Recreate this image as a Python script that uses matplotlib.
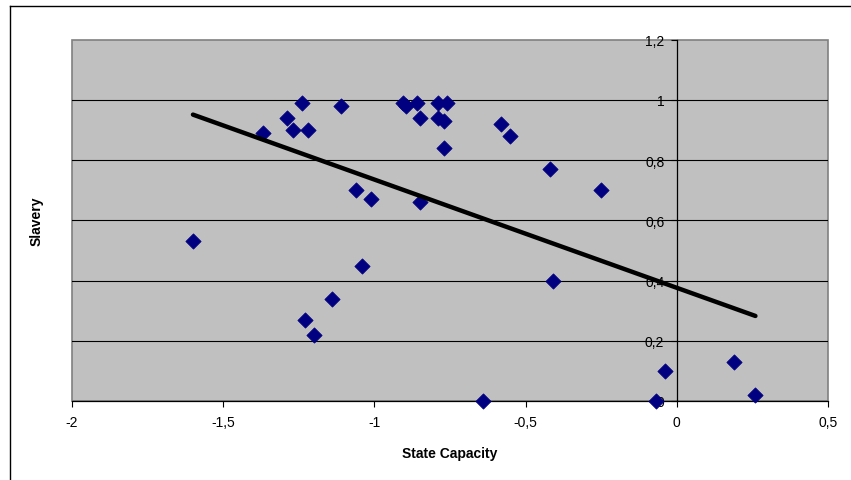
import matplotlib
matplotlib.use("Agg")
import matplotlib.pyplot as plt
from matplotlib.patches import Rectangle
from matplotlib.lines import Line2D
import numpy as np

plt.rcParams['font.family'] = ['Liberation Sans', 'DejaVu Sans']

state_capacity = [-1.60, -1.37, -1.29, -1.24, -1.27, -1.22, -1.11, -1.06, -1.01, -1.04,
                  -1.23, -1.20, -1.14, -0.905, -0.895, -0.86, -0.85, -0.79, -0.76, -0.79,
                  -0.77, -0.77, -0.58, -0.55, -0.42, -0.25, -0.85, -0.41, -0.64, -0.07,
                  -0.04, 0.19, 0.26]
slavery = [0.53, 0.89, 0.94, 0.99, 0.90, 0.90, 0.98, 0.70, 0.67, 0.45,
           0.27, 0.22, 0.34, 0.99, 0.98, 0.99, 0.94, 0.99, 0.99, 0.94,
           0.93, 0.84, 0.92, 0.88, 0.77, 0.70, 0.66, 0.40, 0.00, 0.00,
           0.10, 0.13, 0.02]

x_ticks = [-2, -1.5, -1, -0.5, 0, 0.5]
x_tick_labels = ["-2", "-1,5", "-1", "-0,5", "0", "0,5"]
y_ticks = [0, 0.2, 0.4, 0.6, 0.8, 1.0, 1.2]
y_tick_labels = ["0", "0,2", "0,4", "0,6", "0,8", "1", "1,2"]

W, H = 851, 481
fig = plt.figure(figsize=(W / 100, H / 100), dpi=100)
fig.patch.set_facecolor('white')

left, right, top, bottom = 72, 828, 40.8, 402
ax = fig.add_axes([left / W, (H - bottom) / H, (right - left) / W, (bottom - top) / H])
ax.set_facecolor('#C0C0C0')
ax.set_xlim(-2, 0.5)
ax.set_ylim(0, 1.2)

# plot-area border
ax.add_patch(Rectangle((0, 0), 1, 1, transform=ax.transAxes, fill=False,
                       edgecolor='#808080', lw=1.2, zorder=0.5, clip_on=False))
for s in ['top', 'right']:
    ax.spines[s].set_visible(False)
ax.spines['bottom'].set_color('black')
ax.spines['bottom'].set_linewidth(0.9)
ax.spines['left'].set_position(('data', 0))
ax.spines['left'].set_color('black')
ax.spines['left'].set_linewidth(0.9)

# gridlines
for yv in y_ticks[1:-1]:
    ax.axhline(yv, color='black', lw=0.8, zorder=1)

ax.set_xticks(x_ticks)
ax.set_xticklabels(x_tick_labels)
ax.set_yticks(y_ticks)
ax.set_yticklabels(y_tick_labels)
ax.tick_params(axis='x', direction='out', length=4, width=0.8, pad=6, labelsize=10, colors='black')
ax.tick_params(axis='y', direction='out', length=4, width=0.8, pad=5, labelsize=10, colors='black')

ax.scatter(state_capacity, slavery, marker='D', s=7.8 ** 2, color='#000080',
           edgecolors='#000080', linewidths=0.5, zorder=3, clip_on=False)

# linear trendline
coef = np.polyfit(state_capacity, slavery, 1)
xs = np.array([min(state_capacity), max(state_capacity)])
ax.plot(xs, np.polyval(coef, xs), color='black', lw=3.2, solid_capstyle='round', zorder=4)

ax.set_xlabel('State Capacity', fontsize=10, fontweight='bold', labelpad=12)
ax.set_ylabel('Slavery', fontsize=10, fontweight='bold')
ax.yaxis.set_label_coords(-0.038, 0.5)

# outer chart frame (cut off at right/bottom)
fx = 10 / W
fy = 1 - 7 / H
fig.add_artist(Line2D([fx, fx], [0, fy], transform=fig.transFigure, color='black', lw=1))
fig.add_artist(Line2D([fx, 1], [fy, fy], transform=fig.transFigure, color='black', lw=1))

fig.savefig('out.png', dpi=100)
